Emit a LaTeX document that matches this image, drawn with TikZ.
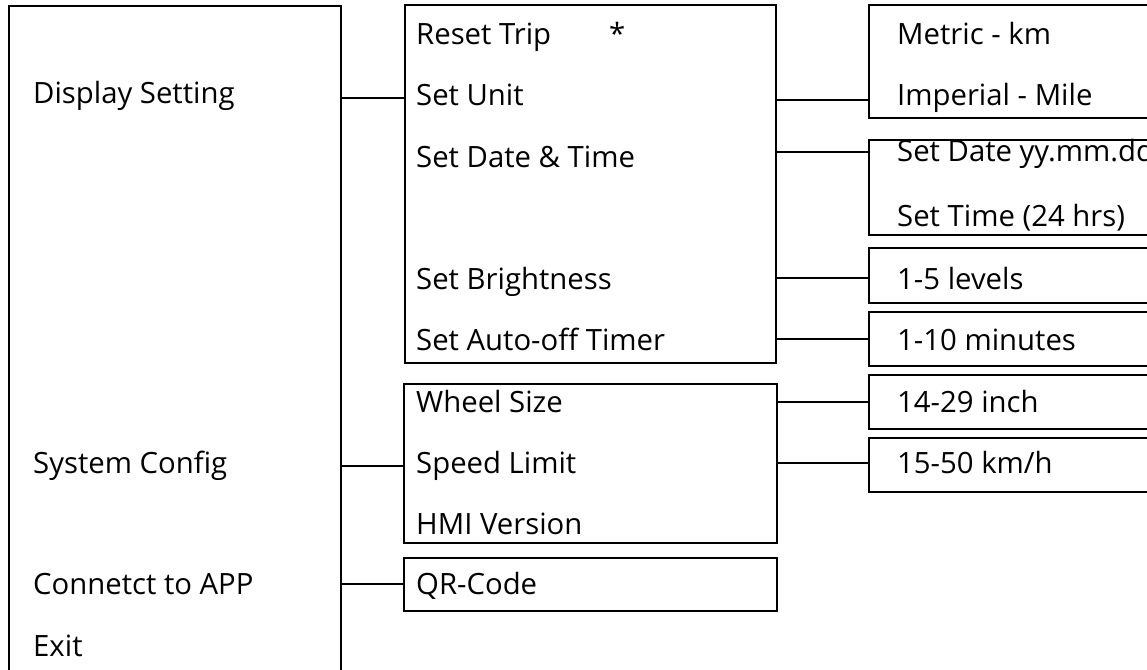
\documentclass[tikz,border=0pt]{standalone}
\usepackage{fontspec}
\setmainfont{Open Sans}
\begin{document}
\begin{tikzpicture}[x=1pt,y=-1pt,
  box/.style={draw, line width=2pt, inner sep=0pt, outer sep=0pt, anchor=north west},
  lbl/.style={anchor=base west, inner sep=0pt, font=\fontsize{29.3}{34}\selectfont},
  conn/.style={line width=2pt}]
\useasboundingbox (0,0) rectangle (1147,669);
% boxes
\node[box, minimum width=332pt, minimum height=700pt] (L) at (9,6) {};
\node[box, minimum width=371pt, minimum height=358pt] (M1) at (405,5) {};
\node[box, minimum width=373pt, minimum height=159pt] (M2) at (404,384) {};
\node[box, minimum width=373pt, minimum height=53pt] (M3) at (404,558) {};
\node[box, minimum width=300pt, minimum height=113pt] (R1) at (869,5) {};
\node[box, minimum width=300pt, minimum height=95pt] (R2) at (869,140) {};
\node[box, minimum width=300pt, minimum height=55pt] (R3) at (869,248) {};
\node[box, minimum width=300pt, minimum height=54pt] (R4) at (869,312) {};
\node[box, minimum width=300pt, minimum height=54pt] (R5) at (869,375) {};
\node[box, minimum width=300pt, minimum height=54pt] (R6) at (869,438) {};
% left texts
\node[lbl] (tds) at (33,103) {Display Setting};
\node[lbl] (tsc) at (33,473) {System Config};
\node[lbl] (tapp) at (33,594) {Connetct to APP};
\node[lbl] (tex) at (33,656) {Exit};
% middle texts
\node[lbl] (trt) at (416,45) {Reset Trip};
\node[lbl] (tast) at (609,45) {*};
\node[lbl] (tsu) at (416,105) {Set Unit};
\node[lbl] (tsdt) at (416,167) {Set Date \& Time};
\node[lbl] (tsb) at (416,289) {Set Brightness};
\node[lbl] (tsa) at (416,350) {Set Auto-off Timer};
\node[lbl] (tws) at (416,412) {Wheel Size};
\node[lbl] (tsl) at (416,473) {Speed Limit};
\node[lbl] (thmi) at (416,534) {HMI Version};
\node[lbl] (tqr) at (416,594) {QR-Code};
% right texts
\node[lbl] (tmk) at (897,45) {Metric - km};
\node[lbl] (tim) at (897,105) {Imperial - Mile};
\node[lbl] (tsd) at (897,161) {Set Date yy.mm.dd};
\node[lbl] (tst) at (897,226) {Set Time (24 hrs)};
\node[lbl] (t15) at (897,289) {1-5 levels};
\node[lbl] (t110) at (897,350) {1-10 minutes};
\node[lbl] (t1429) at (897,412) {14-29 inch};
\node[lbl] (t1550) at (897,473) {15-50 km/h};
% connector levels
\coordinate (cds) at (0,98);
\coordinate (csc) at (0,466);
\coordinate (capp) at (0,584);
\coordinate (cu) at (0,100);
\coordinate (cd) at (0,152);
\coordinate (cb) at (0,278);
\coordinate (ca) at (0,339);
\coordinate (cw) at (0,402);
\coordinate (cs) at (0,463);
% connectors
\draw[conn] (cds -| L.east) -- (cds -| M1.west);
\draw[conn] (csc -| L.east) -- (csc -| M2.west);
\draw[conn] (capp -| L.east) -- (capp -| M3.west);
\draw[conn] (cu -| M1.east) -- (cu -| R1.west);
\draw[conn] (cd -| M1.east) -- (cd -| R2.west);
\draw[conn] (cb -| M1.east) -- (cb -| R3.west);
\draw[conn] (ca -| M1.east) -- (ca -| R4.west);
\draw[conn] (cw -| M2.east) -- (cw -| R5.west);
\draw[conn] (cs -| M2.east) -- (cs -| R6.west);
\end{tikzpicture}
\end{document}
